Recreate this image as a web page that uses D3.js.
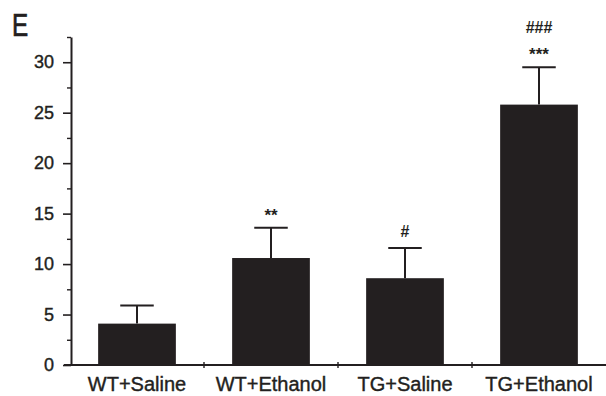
<!DOCTYPE html>
<html>
<head>
<meta charset="utf-8">
<script src="https://cdn.jsdelivr.net/npm/d3@7"></script>
<style>
  html, body { margin: 0; padding: 0; background: #fff; }
  svg { display: block; }
</style>
</head>
<body>
<div id="chart"></div>
<script>
// data
var groups  = ['WT+Saline', 'WT+Ethanol', 'TG+Saline', 'TG+Ethanol'];
var means   = [4.1, 10.6, 8.6, 25.8];
var errors  = [1.8, 3.0, 3.0, 3.7];
var stars   = ['', '**', '', '***'];
var hashes  = ['', '', '#', '###'];
var yTicks  = [0, 5, 10, 15, 20, 25, 30];
var yMinor  = [2.5, 7.5, 12.5, 17.5, 22.5, 27.5, 32.5];

(function() {
  var W = 606, H = 396;
  var INK = '#231f20';
  var FONT = '"Liberation Sans", Arial, Helvetica, sans-serif';

  var svg = d3.select('#chart').append('svg')
    .attr('width', W).attr('height', H);

  var x = d3.scaleBand().domain(groups).range([70, 606]).padding(0);
  var y = d3.scaleLinear().domain([0, 32.5]).range([365, 37]);

  var bw = x.bandwidth();
  var barW = bw * 0.58;
  var capW = bw * 0.25;

  // ── Bars ────────────────────────────────────────────────────────────────
  svg.append('g').selectAll('rect').data(groups).enter().append('rect')
    .attr('x', function(d) { return x(d) + (bw - barW) / 2; })
    .attr('width', barW)
    .attr('y', function(d, i) { return y(means[i]); })
    .attr('height', function(d, i) { return y(0) - y(means[i]); })
    .attr('fill', INK);

  // ── Error bars (upper only) ────────────────────────────────────────────
  var eg = svg.append('g').attr('stroke', INK).attr('stroke-width', 2);
  groups.forEach(function(d, i) {
    var cx = x(d) + bw / 2;
    eg.append('line')
      .attr('x1', cx).attr('x2', cx)
      .attr('y1', y(means[i])).attr('y2', y(means[i] + errors[i]));
    eg.append('line')
      .attr('x1', cx - capW / 2).attr('x2', cx + capW / 2)
      .attr('y1', y(means[i] + errors[i])).attr('y2', y(means[i] + errors[i]));
  });

  // ── Significance marks ─────────────────────────────────────────────────
  var ag = svg.append('g').attr('font-family', FONT).attr('font-weight', 'bold')
    .attr('fill', INK).attr('text-anchor', 'middle');
  groups.forEach(function(d, i) {
    var cx = x(d) + bw / 2;
    var top = y(means[i] + errors[i]);
    if (stars[i]) {
      ag.append('text').attr('x', cx).attr('y', top - 7)
        .attr('font-size', 17).text(stars[i]);
    }
    if (hashes[i]) {
      ag.append('text').attr('x', cx).attr('y', top - (stars[i] ? 34 : 10.5))
        .attr('font-size', 16).text(hashes[i]);
    }
  });

  // ── Y axis ─────────────────────────────────────────────────────────────
  var yAxis = svg.append('g').attr('transform', 'translate(71,0)')
    .call(d3.axisLeft(y).tickValues(yTicks).tickSize(8).tickPadding(9).tickSizeOuter(0));
  yAxis.select('.domain').attr('stroke', INK).attr('stroke-width', 2);
  yAxis.selectAll('.tick line').attr('stroke', INK).attr('stroke-width', 1.6);
  yAxis.selectAll('.tick text')
    .attr('font-family', FONT).attr('font-size', 18).attr('fill', INK)
    .attr('stroke', INK).attr('stroke-width', 0.4);

  var yAxisMinor = svg.append('g').attr('transform', 'translate(71,0)')
    .call(d3.axisLeft(y).tickValues(yMinor).tickSize(4).tickFormat('').tickSizeOuter(0));
  yAxisMinor.select('.domain').remove();
  yAxisMinor.selectAll('.tick line').attr('stroke', INK).attr('stroke-width', 1.4);

  // ── X axis ─────────────────────────────────────────────────────────────
  var xg = svg.append('g').attr('transform', 'translate(0,' + y(0) + ')');
  xg.append('line').attr('x1', 64).attr('x2', 606).attr('y1', 0).attr('y2', 0)
    .attr('stroke', INK).attr('stroke-width', 2);
  xg.selectAll('line.sep').data(groups.slice(1)).enter().append('line')
    .attr('class', 'sep')
    .attr('x1', function(d) { return x(d); }).attr('x2', function(d) { return x(d); })
    .attr('y1', -3).attr('y2', 3)
    .attr('stroke', INK).attr('stroke-width', 1.4);
  xg.selectAll('text').data(groups).enter().append('text')
    .attr('x', function(d) { return x(d) + bw / 2; })
    .attr('y', 26)
    .attr('text-anchor', 'middle')
    .attr('font-family', FONT).attr('font-size', 20).attr('fill', INK)
    .attr('stroke', INK).attr('stroke-width', 0.4)
    .text(function(d) { return d; });

  // ── Panel letter ───────────────────────────────────────────────────────
  svg.append('text').attr('transform', 'translate(12,36) scale(0.76,1)')
    .attr('font-family', FONT).attr('font-size', 32).attr('fill', INK)
    .attr('stroke', INK).attr('stroke-width', 0.7)
    .text('E');
})();
</script>
</body>
</html>
